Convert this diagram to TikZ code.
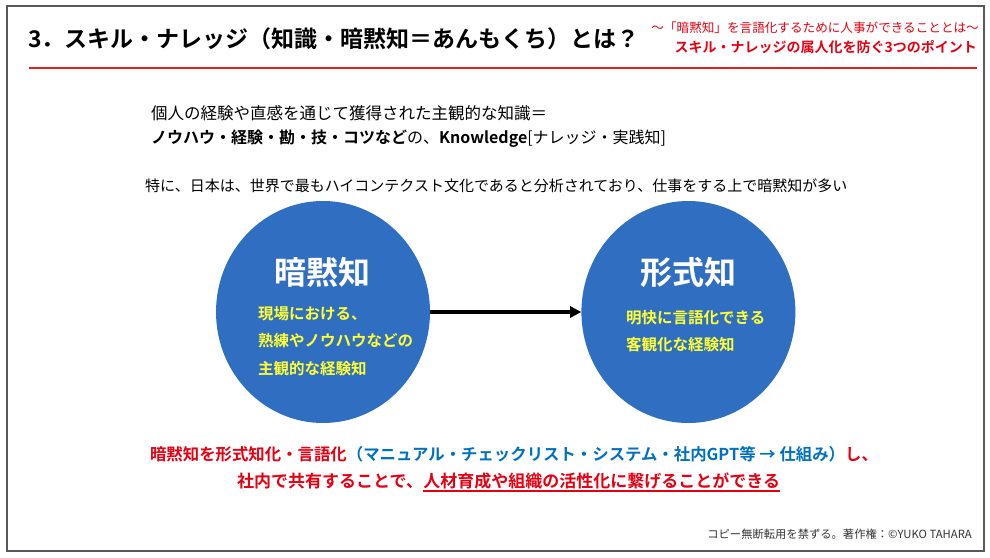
\documentclass[tikz,border=0pt]{standalone}
\usepackage{fontspec}
\setmainfont{Noto Sans CJK JP}[BoldFont={Noto Sans CJK JP Bold}]
\usetikzlibrary{arrows.meta, positioning, shapes.geometric}

\definecolor{circblue}{HTML}{2F6EC0}
\definecolor{noteyellow}{HTML}{FFFF33}
\definecolor{alertred}{HTML}{E60012}
\definecolor{rulered}{HTML}{E02020}
\definecolor{textblue}{HTML}{0070C0}
\definecolor{framegray}{HTML}{595959}
\definecolor{footgray}{HTML}{333333}

\begin{document}
\begin{tikzpicture}[x=1pt, y=-1pt,
    txt/.style={inner sep=0pt, anchor=west},
    knot/.style={ellipse, fill=circblue, minimum width=214pt, minimum height=222pt, inner sep=0pt},
    head/.style={inner sep=0pt, text=white, font=\bfseries\fontsize{32}{38}\selectfont},
    note/.style={inner sep=0pt, anchor=west, align=left, text=noteyellow, font=\bfseries\fontsize{15.5}{27.5}\selectfont}
]
    \useasboundingbox (0,0) rectangle (990,557);
    \draw[framegray, line width=1.5pt] (7,6) rectangle (984,551);

    % タイトル
    \node[txt, font=\bfseries\fontsize{23}{28}\selectfont] (title) at (28,39) {3．スキル・ナレッジ（知識・暗黙知＝あんもくち）とは？};
    \node[txt, anchor=east, text=alertred, font=\fontsize{12.6}{15}\selectfont] (sub1) at (979,28) {～「暗黙知」を言語化するために人事ができることとは～};
    \node[txt, anchor=east, text=alertred, font=\bfseries\fontsize{14}{17}\selectfont] (sub2) at (977,47) {スキル・ナレッジの属人化を防ぐ3つのポイント};
    \coordinate (ruleL) at (29,68);
    \coordinate (ruleR) at (977,68);
    \draw[rulered, line width=2.6pt] (ruleL) -- (ruleR);

    % 説明文
    \node[txt, font=\fontsize{16.5}{20}\selectfont] (def) at (151,113) {個人の経験や直感を通じて獲得された主観的な知識＝};
    \node[txt, font=\fontsize{16}{20}\selectfont] (know) at (151,139) {\textbf{ノウハウ・経験・勘・技・コツなど}の、\textbf{Knowledge}[ナレッジ・実践知]};
    \node[txt, font=\fontsize{15}{18}\selectfont] (japan) at (145,186) {特に、日本は、世界で最もハイコンテクスト文化であると分析されており、仕事をする上で暗黙知が多い};

    % 暗黙知 → 形式知
    \node[knot] (tacit) at (323,312) {};
    \node[knot, right=151pt of tacit] (explicit) {};
    \node[head] (tacitHead) at (322,272) {暗黙知};
    \node[head] (explicitHead) at (688,272) {形式知};
    \node[note] (tacitNote) at (258,341) {現場における、\\熟練やノウハウなどの\\主観的な経験知};
    \node[note] (explicitNote) at (626,331) {明快に言語化できる\\客観化な経験知};
    \draw[-{Triangle[length=11pt, width=11pt]}, line width=3.2pt] (tacit) -- (explicit);

    % まとめ
    \node[inner sep=0pt, font=\bfseries\fontsize{16.4}{20}\selectfont] (sum) at (514,454) {\textcolor{alertred}{暗黙知を形式知化・言語化}\textcolor{textblue}{（マニュアル・チェックリスト・システム・社内GPT等 → 仕組み）}\textcolor{alertred}{し、}};
    \node[txt, text=alertred, font=\bfseries\fontsize{17}{20}\selectfont] (share) at (237,481) {社内で共有することで、};
    \node[inner sep=0pt, anchor=base west, text=alertred, font=\bfseries\fontsize{17}{20}\selectfont] (goal) at (share.base east) {人材育成や組織の活性化に繋げることができる};
    \draw[alertred, line width=1.5pt] ([yshift=-1.5pt]goal.south west) -- ([yshift=-1.5pt]goal.south east);

    \node[txt, anchor=east, text=footgray, font=\fontsize{11.3}{13}\selectfont] (copy) at (972,534) {コピー無断転用を禁ずる。著作権：©YUKO TAHARA};
\end{tikzpicture}
\end{document}
